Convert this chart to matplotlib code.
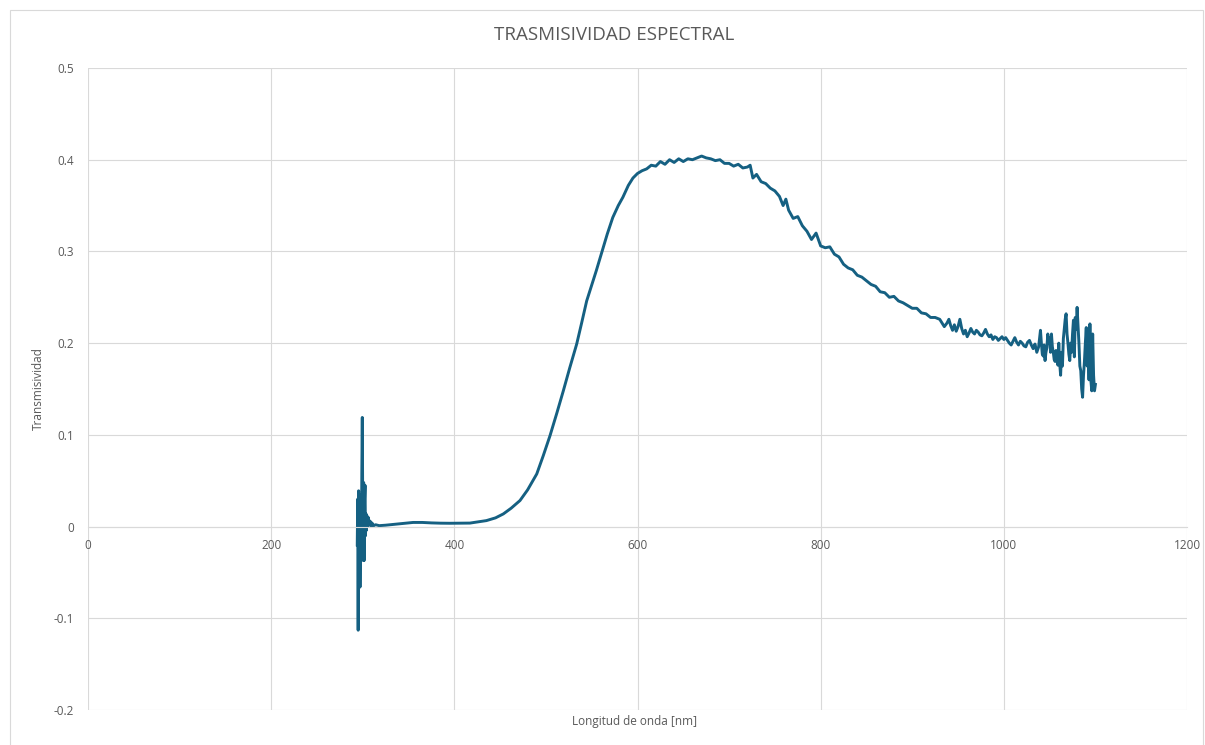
import matplotlib
matplotlib.use("Agg")
import matplotlib.pyplot as plt
from matplotlib.patches import Rectangle

# ---- data ----
wavelength_spike = [294, 294.5, 295, 295.5, 296, 296.5, 297, 297.5, 298, 298.5, 299, 299.5,
                    300, 300.5, 301, 301.5, 302, 302.5, 303, 303.5, 304, 304.5, 305, 306,
                    307, 308, 309, 310, 312, 314]
trans_spike = [-0.02, 0.03, -0.113, 0.039, -0.05, 0.02, -0.066, -0.01, 0.035, -0.03, 0.06,
               0.119, 0.02, -0.037, 0.048, -0.037, 0.03, 0.045, -0.01, 0.014, -0.004, 0.012,
               0.0, 0.010, 0.002, 0.006, 0.0, 0.004, 0.001, 0.002]

wavelength_rise = [318, 325, 335, 345, 355, 365, 375, 385, 395, 405, 417, 425, 435, 445,
                   453.5, 462, 471.7, 480, 490, 497, 504.5, 512, 519, 526, 533.6, 539, 544.5,
                   548, 555, 561, 567, 573, 579, 584, 590, 595, 600, 605]
trans_rise = [0.001, 0.0015, 0.0025, 0.0035, 0.0045, 0.0045, 0.004, 0.0037, 0.0036, 0.0037,
              0.0038, 0.005, 0.0065, 0.0095, 0.0138, 0.02, 0.0284, 0.040, 0.0574, 0.077,
              0.0992, 0.124, 0.148, 0.173, 0.199, 0.222, 0.246, 0.257, 0.279, 0.299, 0.319,
              0.337, 0.350, 0.359, 0.372, 0.380, 0.385, 0.388]

wavelength_peak = [610, 615, 620, 625, 630, 635, 640, 645, 650, 655, 660, 665, 670, 675,
                   680, 685, 690, 695, 700, 705, 710, 715, 720, 723, 726, 730, 735, 740,
                   745, 750, 755, 759, 762, 765, 770, 775, 780, 785, 790, 795, 800, 805,
                   810, 815, 820, 825, 830, 835, 840, 845, 850, 855, 860, 865, 870, 875,
                   880, 885, 890, 895, 900, 905, 910, 915, 920, 925, 930, 935]
trans_peak = [0.390, 0.394, 0.393, 0.398, 0.395, 0.400, 0.397, 0.401, 0.398, 0.401, 0.400,
              0.402, 0.404, 0.402, 0.401, 0.399, 0.400, 0.396, 0.396, 0.393, 0.395, 0.391,
              0.392, 0.394, 0.380, 0.384, 0.376, 0.374, 0.369, 0.366, 0.360, 0.350, 0.357,
              0.345, 0.336, 0.338, 0.328, 0.322, 0.313, 0.320, 0.306, 0.304, 0.305, 0.297,
              0.294, 0.286, 0.282, 0.280, 0.274, 0.272, 0.268, 0.264, 0.262, 0.256, 0.255,
              0.250, 0.251, 0.246, 0.244, 0.241, 0.238, 0.238, 0.233, 0.232, 0.228, 0.228,
              0.226, 0.218]

wavelength_tail = [938, 940, 942, 944, 946, 948, 950, 952, 954, 956, 958, 960, 962, 964, 966,
                   968, 970, 972, 974, 976, 978, 980, 982, 984, 986, 988, 990, 992, 994, 996,
                   998, 1000, 1002, 1004, 1006, 1008, 1010, 1012, 1014, 1016, 1018, 1020,
                   1022, 1024, 1026, 1028, 1030, 1032, 1034, 1036, 1038, 1040, 1041, 1042,
                   1043, 1044, 1045, 1046, 1047, 1048, 1049, 1050, 1051, 1052, 1053, 1054,
                   1055, 1056, 1057, 1058, 1059, 1060, 1061, 1062, 1063, 1064, 1065, 1066,
                   1067, 1068, 1069, 1070, 1071, 1072, 1073, 1074, 1075, 1076, 1077, 1078,
                   1079, 1080, 1081, 1082, 1083, 1084, 1085, 1086, 1087, 1088, 1089, 1090,
                   1091, 1092, 1093, 1094, 1095, 1096, 1097, 1098, 1099, 1100]
trans_tail = [0.222, 0.226, 0.219, 0.214, 0.220, 0.213, 0.218, 0.226, 0.216, 0.210, 0.214,
              0.207, 0.211, 0.216, 0.212, 0.210, 0.214, 0.212, 0.209, 0.208, 0.211, 0.215,
              0.210, 0.207, 0.209, 0.204, 0.207, 0.206, 0.203, 0.205, 0.207, 0.204, 0.206,
              0.203, 0.200, 0.198, 0.202, 0.206, 0.201, 0.198, 0.202, 0.200, 0.197, 0.196,
              0.201, 0.203, 0.198, 0.194, 0.199, 0.190, 0.196, 0.214, 0.200, 0.188, 0.186,
              0.198, 0.181, 0.190, 0.195, 0.210, 0.200, 0.206, 0.190, 0.210, 0.196, 0.190,
              0.182, 0.180, 0.192, 0.185, 0.176, 0.200, 0.178, 0.165, 0.190, 0.175, 0.205,
              0.215, 0.226, 0.232, 0.210, 0.200, 0.188, 0.181, 0.200, 0.190, 0.210, 0.225,
              0.185, 0.228, 0.215, 0.239, 0.220, 0.200, 0.175, 0.170, 0.150, 0.141, 0.165,
              0.180, 0.200, 0.217, 0.175, 0.200, 0.160, 0.221, 0.160, 0.148, 0.210, 0.165,
              0.148, 0.155]

x_ticks = [0, 200, 400, 600, 800, 1000, 1200]
y_ticks = [-0.2, -0.1, 0, 0.1, 0.2, 0.3, 0.4, 0.5]
y_tick_labels = ["-0.2", "-0.1", "0", "0.1", "0.2", "0.3", "0.4", "0.5"]

title = "TRASMISIVIDAD ESPECTRAL"
x_label = "Longitud de onda [nm]"
y_label = "Transmisividad"

wavelength = wavelength_spike + wavelength_rise + wavelength_peak + wavelength_tail
transmissivity = trans_spike + trans_rise + trans_peak + trans_tail

# ---- figure ----
plt.rcParams['font.family'] = ['Open Sans', 'DejaVu Sans']
W, H = 1205, 745
fig = plt.figure(figsize=(W / 100, H / 100), dpi=100)
fig.patch.set_facecolor("white")

# outer chart border
fig.patches.append(Rectangle((10 / W, -0.05), (1203 - 10) / W, 1 - 10 / H + 0.05,
                             transform=fig.transFigure, fill=False,
                             edgecolor="#D9D9D9", linewidth=0.8))

ax = fig.add_axes([88 / W, 1 - 710 / H, (1187 - 88) / W, (710 - 68) / H])
ax.plot(wavelength, transmissivity, color="#156082", linewidth=2.1,
        solid_joinstyle="round")

ax.set_xlim(0, 1200)
ax.set_ylim(-0.2, 0.5)
ax.set_xticks(x_ticks)
ax.set_yticks(y_ticks)
ax.set_yticklabels(y_tick_labels)
ax.grid(True, color="#D9D9D9", linewidth=0.8)
ax.set_axisbelow(True)

for s in ["top", "right", "left"]:
    ax.spines[s].set_visible(False)
ax.spines["bottom"].set_position(("data", 0))
ax.spines["bottom"].set_color("#D9D9D9")
ax.spines["bottom"].set_linewidth(0.8)

ax.tick_params(axis="both", length=0, labelsize=8.5, labelcolor="#595959")
ax.tick_params(axis="y", pad=10)
ax.tick_params(axis="x", pad=9)

fig.text(614 / W, 1 - 35 / H, title, ha="center", va="center",
         fontsize=13.5, color="#595959")
fig.text(635 / W, 1 - 721 / H, x_label, ha="center", va="center",
         fontsize=8.5, color="#595959")
fig.text(38 / W, 1 - 389 / H, y_label, ha="center", va="center", rotation=90,
         fontsize=8.5, color="#595959")

fig.savefig("out.png", dpi=100)
